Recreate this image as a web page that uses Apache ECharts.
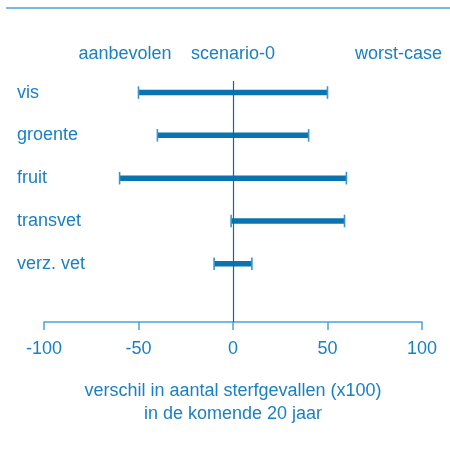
<!DOCTYPE html>
<html>
<head>
<meta charset="utf-8">
<script src="https://cdn.jsdelivr.net/npm/echarts@6/dist/echarts.min.js"></script>
<style>html,body{margin:0;padding:0;background:#fff}#c{width:450px;height:449px}</style>
</head>
<body>
<div id="c"></div>
<script>
var categories = ['vis', 'groente', 'fruit', 'transvet', 'verz. vet'];
var lowValues = [-50, -40, -60, -1, -10];
var highValues = [50, 40, 60, 59, 10];
var headerLabels = ['aanbevolen', 'scenario-0', 'worst-case'];
var xTicks = [-100, -50, 0, 50, 100];
var axisTitle = 'verschil in aantal sterfgevallen (x100)\nin de komende 20 jaar';

var FONT = "'Liberation Sans', Arial, sans-serif";
var TEXT = '#1b80c2';
var BAR = '#0a73b0';
var CAP = '#3a94cf';
var AXIS = '#4aa2da';

var data = categories.map(function (c, i) { return [lowValues[i], highValues[i], i]; });

var chart = echarts.init(document.getElementById('c'), null, { renderer: 'canvas' });
chart.setOption({
  animation: false,
  backgroundColor: '#fff',
  grid: { left: 44, right: 28, top: 81, bottom: 127, containLabel: false },
  xAxis: {
    type: 'value', min: xTicks[0], max: xTicks[xTicks.length - 1], interval: 50,
    splitLine: { show: false },
    axisLine: { show: true, onZero: false, lineStyle: { color: AXIS, width: 1.5 } },
    axisTick: { show: true, length: 8, lineStyle: { color: AXIS, width: 1.5 } },
    axisLabel: { color: TEXT, fontSize: 18, fontFamily: FONT, margin: 18 },
    name: axisTitle, nameLocation: 'middle', nameGap: 58,
    nameTextStyle: { color: TEXT, fontSize: 18, fontFamily: FONT, lineHeight: 23 }
  },
  yAxis: { type: 'value', inverse: true, min: -0.27, max: 5.36, show: false },
  graphic: [
    { type: 'line', shape: { x1: 6, y1: 8, x2: 450, y2: 8 }, style: { stroke: AXIS, lineWidth: 1.5 } },
    { type: 'text', x: 125, y: 54, style: { text: headerLabels[0], fill: TEXT, font: '18px ' + FONT, textAlign: 'center', textVerticalAlign: 'middle' } },
    { type: 'text', x: 233, y: 54, style: { text: headerLabels[1], fill: TEXT, font: '18px ' + FONT, textAlign: 'center', textVerticalAlign: 'middle' } },
    { type: 'text', x: 442, y: 54, style: { text: headerLabels[2], fill: TEXT, font: '18px ' + FONT, textAlign: 'right', textVerticalAlign: 'middle' } }
  ],
  series: [{
    type: 'custom',
    data: data,
    encode: { x: [0, 1], y: 2 },
    renderItem: function (params, api) {
      var lo = api.coord([api.value(0), api.value(2)]);
      var hi = api.coord([api.value(1), api.value(2)]);
      var y = lo[1];
      var h = 5.5, ch = 12.6;
      return {
        type: 'group',
        children: [
          { type: 'rect', shape: { x: lo[0], y: y - h / 2, width: hi[0] - lo[0], height: h }, style: { fill: BAR } },
          { type: 'line', shape: { x1: lo[0], y1: y - ch / 2, x2: lo[0], y2: y + ch / 2 }, style: { stroke: CAP, lineWidth: 1.6 } },
          { type: 'line', shape: { x1: hi[0], y1: y - ch / 2, x2: hi[0], y2: y + ch / 2 }, style: { stroke: CAP, lineWidth: 1.6 } },
          { type: 'text', x: params.coordSys.x - 27, y: y, style: { text: categories[params.dataIndex], fill: TEXT, font: '18px ' + FONT, textAlign: 'left', textVerticalAlign: 'middle' } }
        ]
      };
    },
    markLine: {
      silent: true, symbol: 'none', label: { show: false },
      lineStyle: { color: '#0d6aa6', width: 1.2, type: 'solid' },
      data: [{ xAxis: 0 }]
    },
    z: 3
  }]
});
</script>
</body>
</html>
